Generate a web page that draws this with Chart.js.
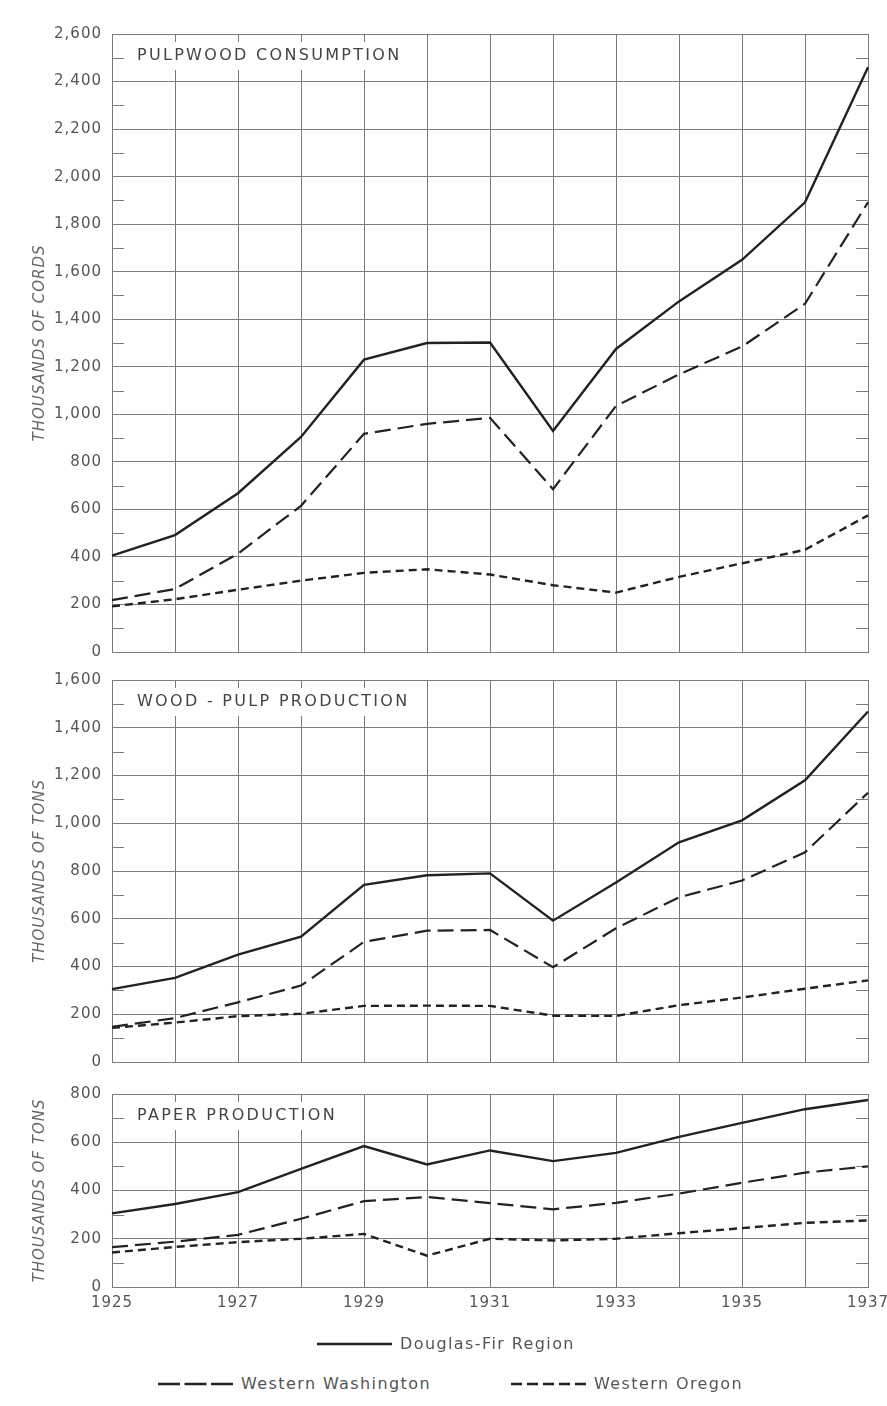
<!DOCTYPE html>
<html>
<head>
<meta charset="utf-8">
<script src="https://cdn.jsdelivr.net/npm/chart.js@4"></script>
<style>
  body { margin: 0; background: #fff; }
  #page { position: relative; width: 887px; height: 1406px; overflow: hidden; }
  canvas { position: absolute; left: 0; }
  .key { position: absolute; height: 20px; line-height: 20px; display: flex; align-items: center;
         font-family: "DejaVu Sans", sans-serif; font-size: 16px; color: #555; letter-spacing: 1.4px; white-space: nowrap; }
  .key svg { margin-right: 8px; }
</style>
</head>
<body>
<div id="page">
  <canvas id="pulpwood" width="887" height="670" style="top:0"></canvas>
  <canvas id="woodpulp" width="887" height="410" style="top:665px"></canvas>
  <canvas id="paper" width="887" height="260" style="top:1075px"></canvas>
  <div id="legend"></div>
</div>
<script>
// years on the shared x axis, and the ones that get a label
const years = [1925, 1926, 1927, 1928, 1929, 1930, 1931, 1932, 1933, 1934, 1935, 1936, 1937];
const yearLabels = ["1925", "1927", "1929", "1931", "1933", "1935", "1937"];

const seriesNames = ["Douglas-Fir Region", "Western Washington", "Western Oregon"];

// Pulpwood consumption (thousands of cords)
const pulpDouglasFir = [405, 492, 668, 905, 1230, 1300, 1302, 930, 1275, 1475, 1650, 1892, 2460];
const pulpWashington = [218, 265, 414, 615, 918, 960, 985, 685, 1035, 1168, 1285, 1465, 1892];
const pulpOregon     = [192, 222, 262, 300, 333, 348, 326, 281, 250, 316, 373, 430, 575];

// Wood-pulp production (thousands of tons)
const woodDouglasFir = [305, 352, 450, 525, 742, 782, 790, 592, 752, 920, 1012, 1180, 1468];
const woodWashington = [147, 184, 250, 320, 503, 550, 553, 397, 560, 690, 760, 878, 1128];
const woodOregon     = [143, 165, 192, 202, 235, 236, 235, 194, 193, 238, 270, 307, 342];

// Paper production (thousands of tons)
const paperDouglasFir = [305, 344, 393, 490, 584, 508, 566, 522, 556, 622, 680, 737, 775];
const paperWashington = [165, 188, 216, 283, 356, 373, 348, 322, 349, 387, 432, 474, 500];
const paperOregon     = [143, 166, 186, 200, 220, 130, 200, 193, 200, 223, 244, 266, 276];

const panelTitles = ["PULPWOOD CONSUMPTION", "WOOD - PULP PRODUCTION", "PAPER PRODUCTION"];
const axisTitles = ["THOUSANDS OF CORDS", "THOUSANDS OF TONS", "THOUSANDS OF TONS"];
const axisMax = [2600, 1600, 800];

const ink = "#222";
const gridColor = "#7a7a7a";
const textColor = "#555";
const lineStyles = [
    { width: 2.4, dash: [] },
    { width: 2.2, dash: [16, 7] },
    { width: 2.4, dash: [8, 5] }
];

// minor ticks on both edges, and the panel heading in a white box
const panelDecor = {
    id: "panelDecor",
    beforeDraw(chart) {
        chart.ctx.letterSpacing = "1px";
    },
    beforeDatasetsDraw(chart, args, opts) {
        const { ctx, chartArea: a, scales: { y } } = chart;
        ctx.save();
        ctx.strokeStyle = gridColor;
        ctx.lineWidth = 1;
        y.ticks.forEach(t => {
            if (t.value % 200 === 0) return;
            const py = Math.round(y.getPixelForValue(t.value)) + 0.5;
            ctx.beginPath();
            ctx.moveTo(a.left, py); ctx.lineTo(a.left + 12, py);
            ctx.moveTo(a.right - 12, py); ctx.lineTo(a.right, py);
            ctx.stroke();
        });
        ctx.font = '16px "DejaVu Sans"';
        ctx.letterSpacing = "2.3px";
        const w = ctx.measureText(opts.text).width;
        const x = a.left + 25, cy = a.top + 22;
        ctx.fillStyle = "#fff";
        ctx.fillRect(x - 9, cy - 14, w + 16, 28);
        ctx.fillStyle = "#444";
        ctx.textBaseline = "middle";
        ctx.fillText(opts.text, x, cy);
        ctx.restore();
    }
};

function makePanel(id, idx, series, padding, showYears) {
    const ctx = document.getElementById(id).getContext("2d");
    new Chart(ctx, {
        type: "line",
        data: {
            labels: years,
            datasets: series.map((values, i) => ({
                label: seriesNames[i],
                data: values,
                borderColor: ink,
                borderWidth: lineStyles[i].width,
                borderDash: lineStyles[i].dash,
                pointRadius: 0,
                tension: 0,
                fill: false
            }))
        },
        options: {
            responsive: false,
            animation: false,
            layout: { padding: padding },
            plugins: {
                legend: { display: false },
                tooltip: { enabled: false },
                panelDecor: { text: panelTitles[idx] }
            },
            scales: {
                x: {
                    type: "category",
                    offset: false,
                    grid: { color: gridColor, offset: false, drawTicks: false },
                    border: { color: gridColor },
                    ticks: {
                        display: showYears,
                        autoSkip: false,
                        maxRotation: 0,
                        padding: 7,
                        color: textColor,
                        font: { family: "DejaVu Sans", size: 15 },
                        callback: (v, i) => yearLabels.includes(String(years[i])) ? String(years[i]) : ""
                    },
                    afterFit: s => {
                        s.height = showYears ? 30 : 0;
                        s.paddingLeft = 0;
                        s.paddingRight = 0;
                    }
                },
                y: {
                    min: 0,
                    max: axisMax[idx],
                    grid: {
                        drawTicks: false,
                        color: c => (c.tick && c.tick.value % 200 === 0) ? gridColor : "rgba(0,0,0,0)"
                    },
                    border: { color: gridColor },
                    ticks: {
                        stepSize: 100,
                        autoSkip: false,
                        padding: 10,
                        color: textColor,
                        font: { family: "DejaVu Sans", size: 15 },
                        callback: v => v % 200 === 0 ? v.toLocaleString("en-US") : ""
                    },
                    title: {
                        display: true,
                        text: axisTitles[idx],
                        color: "#666",
                        padding: { top: 31, bottom: 0 },
                        font: { family: "DejaVu Sans", size: 15, style: "italic" }
                    },
                    afterFit: s => {
                        s.width = 112;
                        s.paddingTop = 0;
                        s.paddingBottom = 0;
                    }
                }
            }
        },
        plugins: [panelDecor]
    });
}

makePanel("pulpwood", 0, [pulpDouglasFir, pulpWashington, pulpOregon], { top: 34, right: 19, bottom: 18, left: 0 }, false);
makePanel("woodpulp", 1, [woodDouglasFir, woodWashington, woodOregon], { top: 15, right: 19, bottom: 13, left: 0 }, false);
makePanel("paper", 2, [paperDouglasFir, paperWashington, paperOregon], { top: 19, right: 19, bottom: 18, left: 0 }, true);

// legend underneath, laid out like the original key
const legendSpots = [
    { left: 317, top: 1334, len: 75, dash: "" },
    { left: 158, top: 1374, len: 75, dash: "22 4.5" },
    { left: 511, top: 1374, len: 75, dash: "11 5" }
];
const legend = document.getElementById("legend");
seriesNames.forEach((name, i) => {
    const spot = legendSpots[i];
    const item = document.createElement("div");
    item.className = "key";
    item.style.left = spot.left + "px";
    item.style.top = spot.top + "px";
    item.innerHTML =
        '<svg width="' + spot.len + '" height="6"><line x1="0" y1="3" x2="' + spot.len +
        '" y2="3" stroke="' + ink + '" stroke-width="2.5" stroke-dasharray="' + spot.dash + '"/></svg>' +
        "<span>" + name + "</span>";
    legend.appendChild(item);
});
</script>
</body>
</html>
